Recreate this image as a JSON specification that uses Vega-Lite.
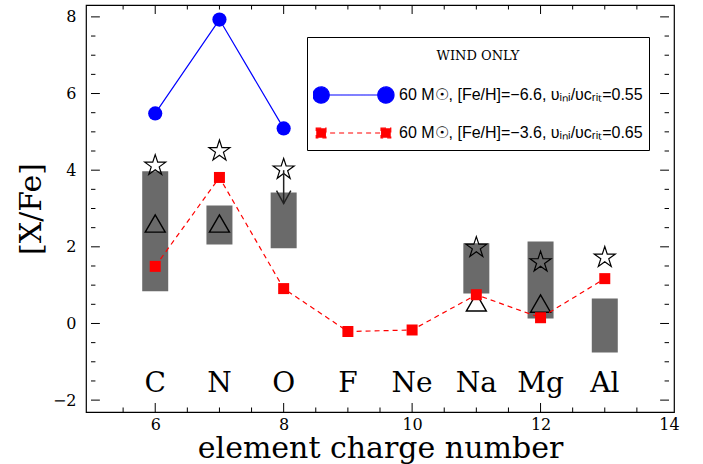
{
  "$schema": "https://vega.github.io/schema/vega-lite/v6.json",
  "width": 588,
  "height": 407,
  "autosize": {"type": "none"},
  "padding": {"left": 86, "top": 5, "right": 29, "bottom": 52},
  "background": "white",
  "config": {
    "view": {"stroke": "black", "strokeWidth": 1.2},
    "legend": {"symbolFillColor": "#0000ff"},
    "axis": {
      "grid": false,
      "domain": false,
      "ticks": false,
      "labelFont": "DejaVu Serif",
      "labelFontSize": 16,
      "labelColor": "black",
      "titleFont": "DejaVu Serif",
      "titleFontWeight": "normal",
      "titleColor": "black",
      "labelFlush": false,
      "labelOverlap": false
    }
  },
  "datasets": {
    "boxes": [
      {"z": 6, "lo": 0.84, "hi": 3.97},
      {"z": 7, "lo": 2.06, "hi": 3.08},
      {"z": 8, "lo": 1.96, "hi": 3.42},
      {"z": 11, "lo": 0.78, "hi": 2.09},
      {"z": 12, "lo": 0.13, "hi": 2.14},
      {"z": 13, "lo": -0.76, "hi": 0.65}
    ],
    "stars": [
      {"z": 6, "v": 4.12},
      {"z": 7, "v": 4.5},
      {"z": 8, "v": 4.02},
      {"z": 11, "v": 1.98},
      {"z": 12, "v": 1.6},
      {"z": 13, "v": 1.72}
    ],
    "triangles": [
      {"z": 6, "v": 2.61},
      {"z": 7, "v": 2.61},
      {"z": 11, "v": 0.55},
      {"z": 12, "v": 0.52}
    ],
    "arrow": [
      {"z": 8, "from": 4.0, "to": 3.13}
    ],
    "models": [
      {"z": 6, "v": 5.48, "s": "60 M☉, [Fe/H]=−6.6, υᵢₙᵢ/υcᵣᵢₜ=0.55"},
      {"z": 7, "v": 7.93, "s": "60 M☉, [Fe/H]=−6.6, υᵢₙᵢ/υcᵣᵢₜ=0.55"},
      {"z": 8, "v": 5.09, "s": "60 M☉, [Fe/H]=−6.6, υᵢₙᵢ/υcᵣᵢₜ=0.55"},
      {"z": 6, "v": 1.49, "s": "60 M☉, [Fe/H]=−3.6, υᵢₙᵢ/υcᵣᵢₜ=0.65"},
      {"z": 7, "v": 3.81, "s": "60 M☉, [Fe/H]=−3.6, υᵢₙᵢ/υcᵣᵢₜ=0.65"},
      {"z": 8, "v": 0.91, "s": "60 M☉, [Fe/H]=−3.6, υᵢₙᵢ/υcᵣᵢₜ=0.65"},
      {"z": 9, "v": -0.21, "s": "60 M☉, [Fe/H]=−3.6, υᵢₙᵢ/υcᵣᵢₜ=0.65"},
      {"z": 10, "v": -0.17, "s": "60 M☉, [Fe/H]=−3.6, υᵢₙᵢ/υcᵣᵢₜ=0.65"},
      {"z": 11, "v": 0.75, "s": "60 M☉, [Fe/H]=−3.6, υᵢₙᵢ/υcᵣᵢₜ=0.65"},
      {"z": 12, "v": 0.15, "s": "60 M☉, [Fe/H]=−3.6, υᵢₙᵢ/υcᵣᵢₜ=0.65"},
      {"z": 13, "v": 1.17, "s": "60 M☉, [Fe/H]=−3.6, υᵢₙᵢ/υcᵣᵢₜ=0.65"}
    ],
    "elements": [
      {"z": 6, "el": "C"},
      {"z": 7, "el": "N"},
      {"z": 8, "el": "O"},
      {"z": 9, "el": "F"},
      {"z": 10, "el": "Ne"},
      {"z": 11, "el": "Na"},
      {"z": 12, "el": "Mg"},
      {"z": 13, "el": "Al"}
    ],
    "xmajor": [{"t": 6}, {"t": 8}, {"t": 10}, {"t": 12}],
    "xminor": [{"t": 5.5}, {"t": 6.5}, {"t": 7}, {"t": 7.5}, {"t": 8.5}, {"t": 9}, {"t": 9.5}, {"t": 10.5}, {"t": 11}, {"t": 11.5}, {"t": 12.5}, {"t": 13}, {"t": 13.5}],
    "ymajor": [{"t": -2}, {"t": 0}, {"t": 2}, {"t": 4}, {"t": 6}, {"t": 8}],
    "yminor": [{"t": -1.5}, {"t": -1}, {"t": -0.5}, {"t": 0.5}, {"t": 1}, {"t": 1.5}, {"t": 2.5}, {"t": 3}, {"t": 3.5}, {"t": 4.5}, {"t": 5}, {"t": 5.5}, {"t": 6.5}, {"t": 7}, {"t": 7.5}]
  },
  "layer": [
    {
      "data": {"name": "boxes"},
      "mark": {"type": "bar", "width": 26, "color": "#6a6a6a", "orient": "vertical"},
      "encoding": {
        "x": {
          "field": "z", "type": "quantitative",
          "scale": {"domain": [5, 14], "nice": false, "zero": false},
          "axis": {
            "orient": "bottom",
            "values": [6, 8, 10, 12, 14],
            "format": "d",
            "labelPadding": 4,
            "title": "element charge number",
            "titleFontSize": 30,
            "titlePadding": 1
          }
        },
        "y": {
          "field": "lo", "type": "quantitative",
          "scale": {"domain": [-2.31, 8.31], "nice": false, "zero": false},
          "axis": {
            "orient": "left",
            "values": [-2, 0, 2, 4, 6, 8],
            "format": "d",
            "labelPadding": 10,
            "title": "[X/Fe]",
            "titleFontSize": 30,
            "titlePadding": 6
          }
        },
        "y2": {"field": "hi"}
      }
    },
    {
      "data": {"name": "xmajor"},
      "mark": {"type": "rule", "stroke": "black", "strokeWidth": 1},
      "encoding": {
        "x": {"field": "t", "type": "quantitative", "axis": null},
        "y": {"datum": -2.31, "type": "quantitative", "axis": null},
        "y2": {"datum": -2.075}
      }
    },
    {
      "data": {"name": "xmajor"},
      "mark": {"type": "rule", "stroke": "black", "strokeWidth": 1},
      "encoding": {
        "x": {"field": "t", "type": "quantitative", "axis": null},
        "y": {"datum": 8.31, "type": "quantitative", "axis": null},
        "y2": {"datum": 8.075}
      }
    },
    {
      "data": {"name": "xminor"},
      "mark": {"type": "rule", "stroke": "black", "strokeWidth": 1},
      "encoding": {
        "x": {"field": "t", "type": "quantitative", "axis": null},
        "y": {"datum": -2.31, "type": "quantitative", "axis": null},
        "y2": {"datum": -2.1925}
      }
    },
    {
      "data": {"name": "xminor"},
      "mark": {"type": "rule", "stroke": "black", "strokeWidth": 1},
      "encoding": {
        "x": {"field": "t", "type": "quantitative", "axis": null},
        "y": {"datum": 8.31, "type": "quantitative", "axis": null},
        "y2": {"datum": 8.1925}
      }
    },
    {
      "data": {"name": "ymajor"},
      "mark": {"type": "rule", "stroke": "black", "strokeWidth": 1},
      "encoding": {
        "y": {"field": "t", "type": "quantitative", "axis": null},
        "x": {"datum": 5, "type": "quantitative", "axis": null},
        "x2": {"datum": 5.138}
      }
    },
    {
      "data": {"name": "ymajor"},
      "mark": {"type": "rule", "stroke": "black", "strokeWidth": 1},
      "encoding": {
        "y": {"field": "t", "type": "quantitative", "axis": null},
        "x": {"datum": 14, "type": "quantitative", "axis": null},
        "x2": {"datum": 13.862}
      }
    },
    {
      "data": {"name": "yminor"},
      "mark": {"type": "rule", "stroke": "black", "strokeWidth": 1},
      "encoding": {
        "y": {"field": "t", "type": "quantitative", "axis": null},
        "x": {"datum": 5, "type": "quantitative", "axis": null},
        "x2": {"datum": 5.069}
      }
    },
    {
      "data": {"name": "yminor"},
      "mark": {"type": "rule", "stroke": "black", "strokeWidth": 1},
      "encoding": {
        "y": {"field": "t", "type": "quantitative", "axis": null},
        "x": {"datum": 14, "type": "quantitative", "axis": null},
        "x2": {"datum": 13.931}
      }
    },
    {
      "data": {"name": "triangles"},
      "mark": {"type": "point", "shape": "triangle-up", "size": 400, "filled": false, "stroke": "black", "strokeWidth": 1.4, "opacity": 1},
      "encoding": {
        "x": {"field": "z", "type": "quantitative", "axis": null},
        "y": {"field": "v", "type": "quantitative", "axis": null}
      }
    },
    {
      "data": {"name": "stars"},
      "mark": {"type": "point", "shape": "M0,-1L0.225,-0.309L0.951,-0.309L0.363,0.118L0.588,0.809L0,0.382L-0.588,0.809L-0.363,0.118L-0.951,-0.309L-0.225,-0.309Z", "size": 484, "filled": false, "stroke": "black", "strokeWidth": 1.2, "opacity": 1},
      "encoding": {
        "x": {"field": "z", "type": "quantitative", "axis": null},
        "y": {"field": "v", "type": "quantitative", "axis": null}
      }
    },
    {
      "data": {"name": "arrow"},
      "mark": {"type": "rule", "stroke": "#222222", "strokeWidth": 1.5},
      "encoding": {
        "x": {"field": "z", "type": "quantitative", "axis": null},
        "y": {"field": "from", "type": "quantitative", "axis": null},
        "y2": {"field": "to"}
      }
    },
    {
      "data": {"name": "arrow"},
      "mark": {"type": "point", "shape": "M-0.55,-1L0,0L0.55,-1", "size": 676, "filled": false, "stroke": "#222222", "strokeWidth": 1.5, "opacity": 1},
      "encoding": {
        "x": {"field": "z", "type": "quantitative", "axis": null},
        "y": {"field": "to", "type": "quantitative", "axis": null}
      }
    },
    {
      "data": {"name": "models"},
      "transform": [{"filter": {"field": "s", "equal": "60 M☉, [Fe/H]=−6.6, υᵢₙᵢ/υcᵣᵢₜ=0.55"}}],
      "mark": {"type": "line", "strokeWidth": 1.2, "color": "#0000ff"},
      "encoding": {
        "x": {"field": "z", "type": "quantitative", "axis": null},
        "y": {"field": "v", "type": "quantitative", "axis": null}
      }
    },
    {
      "data": {"name": "models"},
      "transform": [{"filter": {"field": "s", "equal": "60 M☉, [Fe/H]=−3.6, υᵢₙᵢ/υcᵣᵢₜ=0.65"}}],
      "mark": {"type": "line", "strokeWidth": 1.2, "color": "#ff0000", "strokeDash": [5, 4]},
      "encoding": {
        "x": {"field": "z", "type": "quantitative", "axis": null},
        "y": {"field": "v", "type": "quantitative", "axis": null}
      }
    },
    {
      "data": {"name": "models"},
      "transform": [{"filter": {"field": "s", "equal": "60 M☉, [Fe/H]=−6.6, υᵢₙᵢ/υcᵣᵢₜ=0.55"}}],
      "mark": {"type": "point", "shape": "circle", "size": 201, "filled": true, "color": "#0000ff", "opacity": 1},
      "encoding": {
        "x": {"field": "z", "type": "quantitative", "axis": null},
        "y": {"field": "v", "type": "quantitative", "axis": null}
      }
    },
    {
      "data": {"name": "models"},
      "transform": [{"filter": {"field": "s", "equal": "60 M☉, [Fe/H]=−3.6, υᵢₙᵢ/υcᵣᵢₜ=0.65"}}],
      "mark": {"type": "point", "shape": "square", "size": 121, "filled": true, "color": "#ff0000", "opacity": 1},
      "encoding": {
        "x": {"field": "z", "type": "quantitative", "axis": null},
        "y": {"field": "v", "type": "quantitative", "axis": null}
      }
    },
    {
      "data": {"name": "models"},
      "mark": {"type": "point", "filled": true, "opacity": 0},
      "encoding": {
        "x": {"field": "z", "type": "quantitative", "axis": null},
        "y": {"field": "v", "type": "quantitative", "axis": null},
        "fill": {
          "field": "s", "type": "nominal",
          "scale": {"domain": ["60 M☉, [Fe/H]=−6.6, υᵢₙᵢ/υcᵣᵢₜ=0.55", "60 M☉, [Fe/H]=−3.6, υᵢₙᵢ/υcᵣᵢₜ=0.65"], "range": ["#0000ff", "#ff0000"]},
          "legend": {
            "orient": "none",
            "legendX": 221,
            "legendY": 32,
            "title": ["", "WIND ONLY"],
            "titleFont": "DejaVu Serif",
            "titleFontSize": 13,
            "titleLineHeight": 7,
            "titleFontWeight": "normal",
            "titleColor": "black",
            "titleAnchor": "middle",
            "titleAlign": "center",
            "titlePadding": 21,
            "padding": 6,
            "strokeColor": "black",
            "fillColor": "white",
            "cornerRadius": 0,
            "labelFont": "Liberation Sans",
            "labelFontSize": 16,
            "labelColor": "black",
            "labelOffset": 4,
            "labelLimit": 400,
            "symbolSize": 6561,
            "symbolStrokeWidth": 1.2,
            "symbolOpacity": 1,
            "symbolOffset": -1,
            "clipHeight": 22,
            "rowPadding": 16
          }
        },
        "stroke": {
          "field": "s", "type": "nominal",
          "scale": {"domain": ["60 M☉, [Fe/H]=−6.6, υᵢₙᵢ/υcᵣᵢₜ=0.55", "60 M☉, [Fe/H]=−3.6, υᵢₙᵢ/υcᵣᵢₜ=0.65"], "range": ["#0000ff", "#ff0000"]}
        },
        "shape": {
          "field": "s", "type": "nominal",
          "scale": {"domain": ["60 M☉, [Fe/H]=−6.6, υᵢₙᵢ/υcᵣᵢₜ=0.55", "60 M☉, [Fe/H]=−3.6, υᵢₙᵢ/υcᵣᵢₜ=0.65"], "range": ["M-0.8,0L0.8,0M-1,0A0.2,0.2,0,1,0,-0.6,0A0.2,0.2,0,1,0,-1,0ZM0.6,0A0.2,0.2,0,1,0,1,0A0.2,0.2,0,1,0,0.6,0Z", "M-0.8,0L0.8,0M-0.92,-0.12L-0.68,-0.12L-0.68,0.12L-0.92,0.12ZM0.68,-0.12L0.92,-0.12L0.92,0.12L0.68,0.12Z"]}
        },
        "strokeDash": {
          "field": "s", "type": "nominal",
          "scale": {"domain": ["60 M☉, [Fe/H]=−6.6, υᵢₙᵢ/υcᵣᵢₜ=0.55", "60 M☉, [Fe/H]=−3.6, υᵢₙᵢ/υcᵣᵢₜ=0.65"], "range": [[1, 0], [5, 4]]}
        }
      }
    },
    {
      "data": {"name": "elements"},
      "mark": {"type": "text", "font": "DejaVu Serif", "fontSize": 28, "baseline": "middle", "align": "center", "color": "black"},
      "encoding": {
        "x": {"field": "z", "type": "quantitative", "axis": null},
        "y": {"datum": -1.57, "type": "quantitative", "axis": null},
        "text": {"field": "el"}
      }
    }
  ],
  "resolve": {"axis": {"x": "independent", "y": "independent"}}
}
